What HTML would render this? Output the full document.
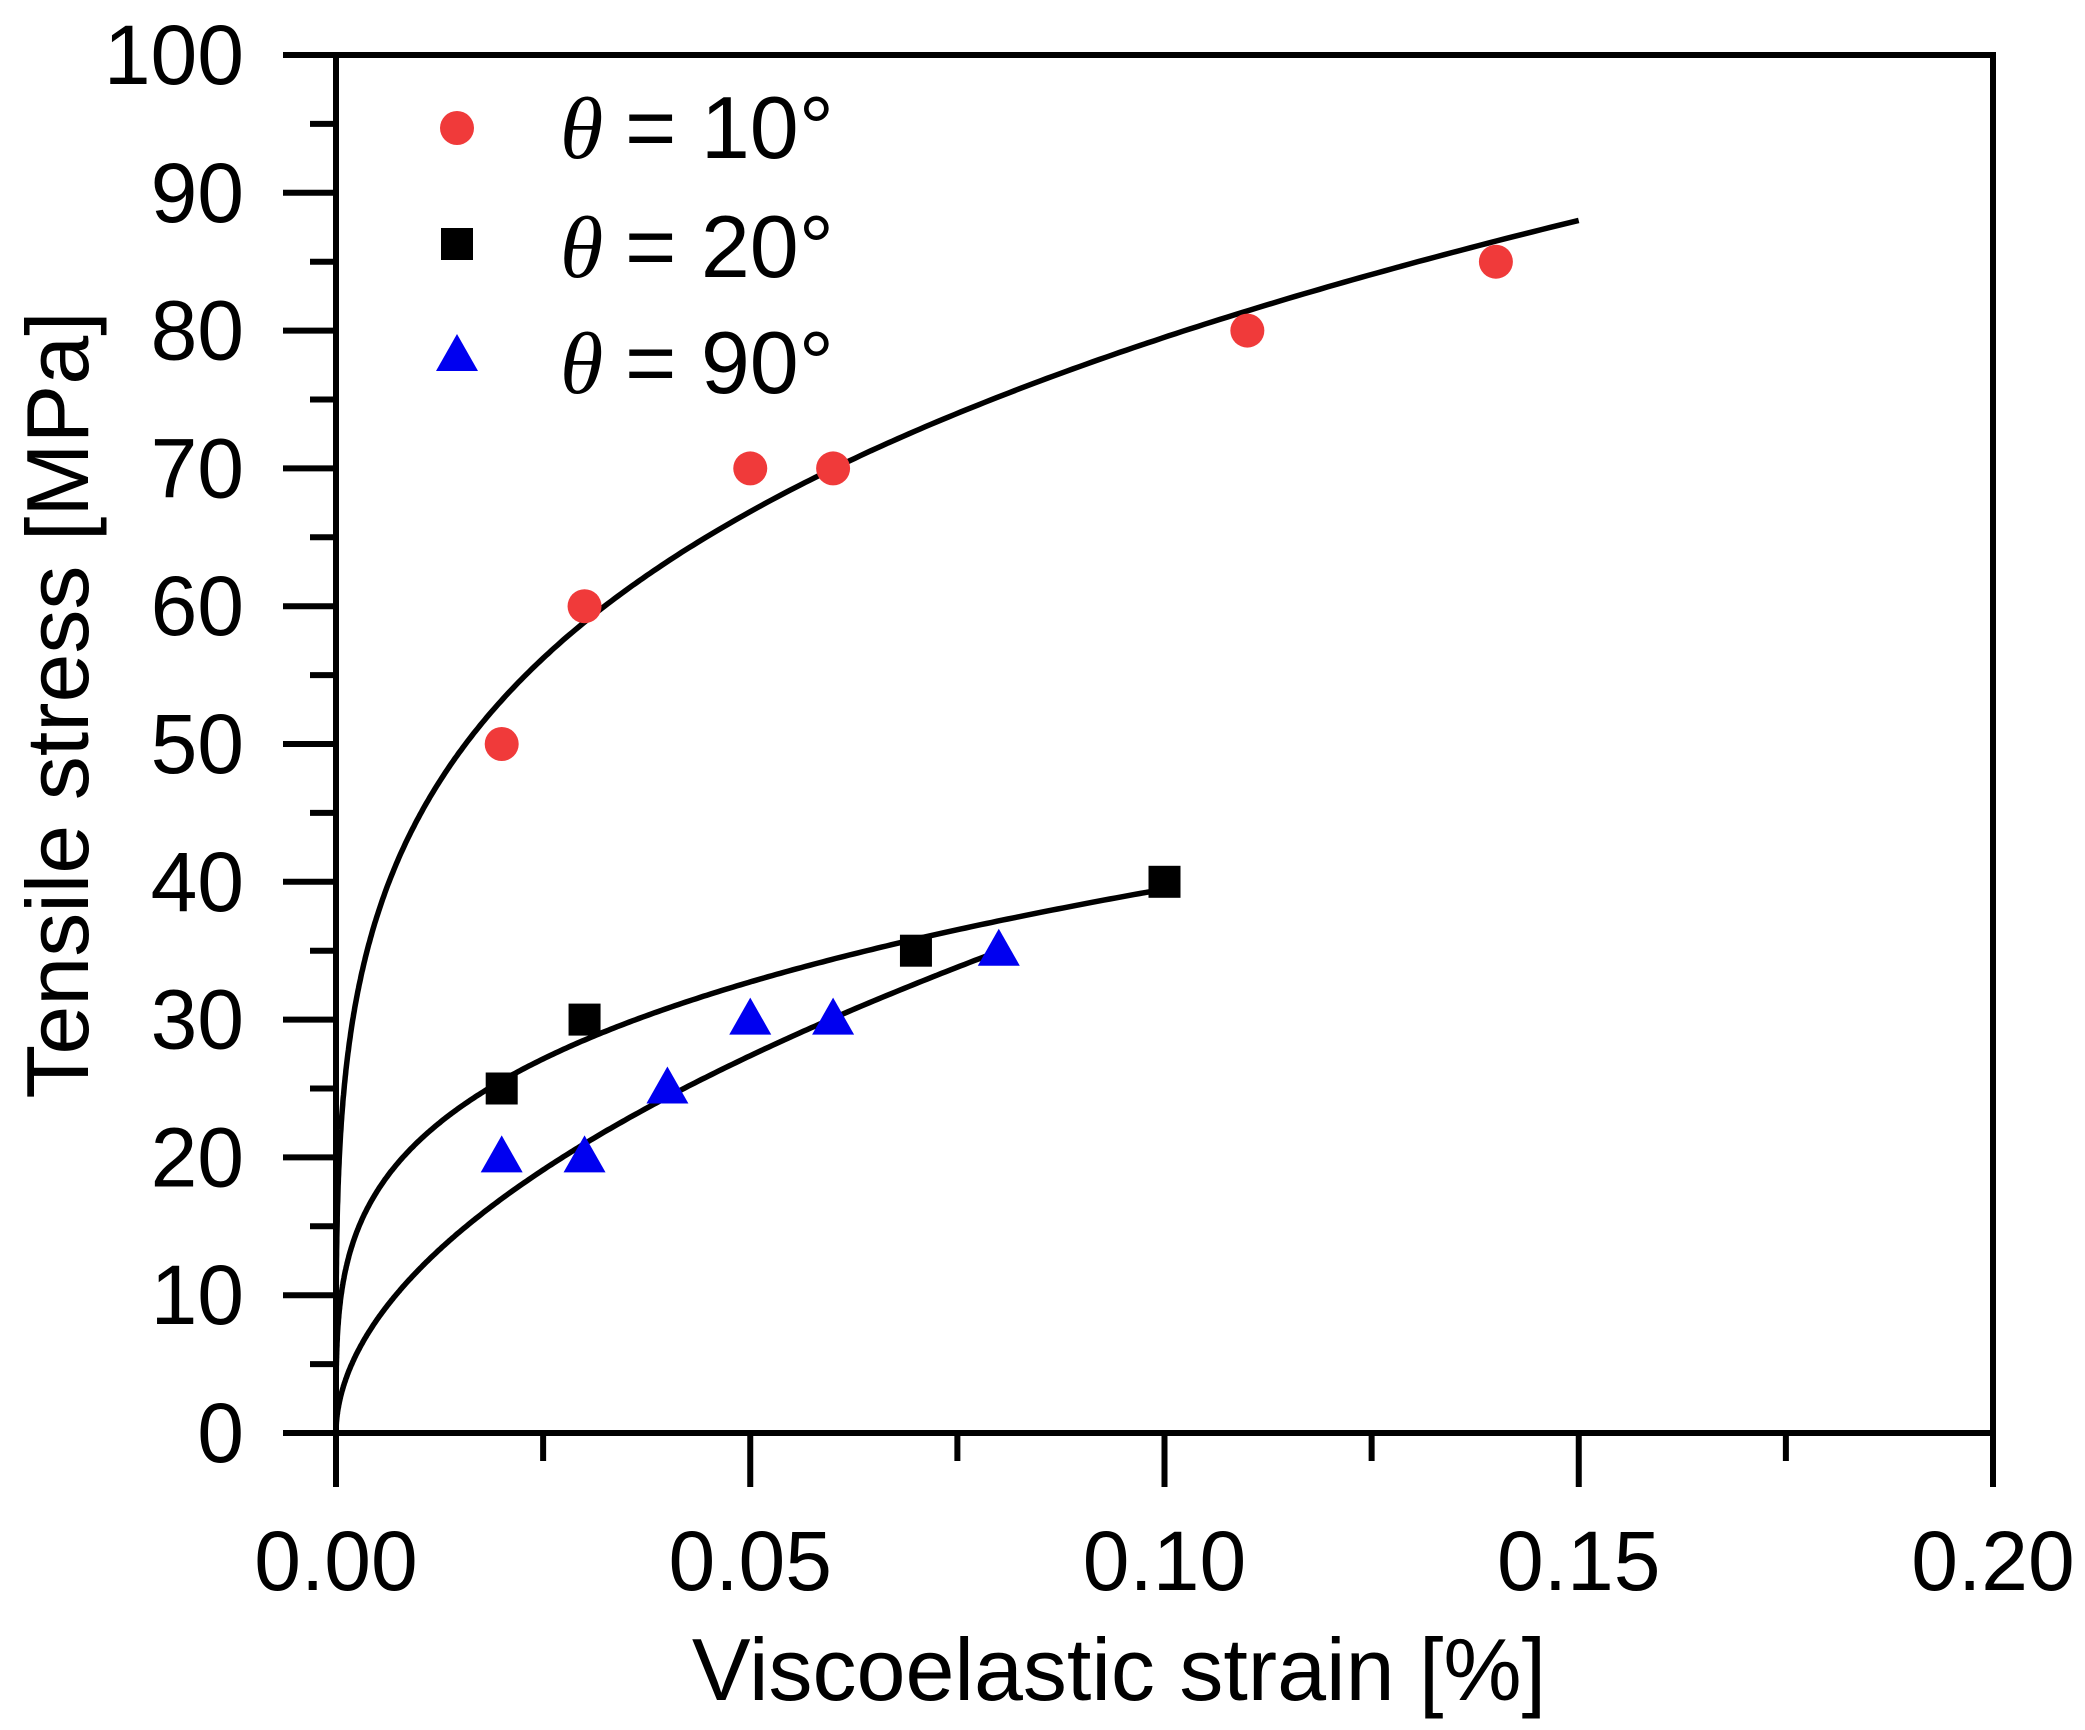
<!DOCTYPE html>
<html><head><meta charset="utf-8"><style>
html,body{margin:0;padding:0;background:#fff;}
svg{display:block;}
text{font-family:"Liberation Sans",Arial,sans-serif;fill:#000;}
</style></head><body>
<svg id="s" width="2085" height="1730" xmlns="http://www.w3.org/2000/svg">
<g id="g"></g>
</svg>
<script>
const X0=336,X1=1993,Y0=1433,Y1=55;
const sx=v=>X0+(X1-X0)*v/0.2, sy=v=>Y0+(Y1-Y0)*v/100;
let h='';
h+=`<rect x="${X0}" y="${Y1}" width="${X1-X0}" height="${Y0-Y1}" fill="none" stroke="#000" stroke-width="6"/>`;
for(let v=0;v<=100;v+=5){const y=sy(v);const maj=v%10==0;h+=`<line x1="${maj?283:310}" x2="${X0}" y1="${y}" y2="${y}" stroke="#000" stroke-width="6"/>`;
 if(maj) h+=`<text x="244" y="${y+29}" font-size="84" text-anchor="end">${v}</text>`;}
for(let i=0;i<=8;i++){const v=i*0.025,x=sx(v);const maj=i%2==0;h+=`<line x1="${x}" x2="${x}" y1="${Y0}" y2="${maj?1487:1461}" stroke="#000" stroke-width="6"/>`;
 if(maj) h+=`<text x="${x}" y="1590" font-size="84" text-anchor="middle">${v.toFixed(2)}</text>`;}
h+=`<text x="1119" y="1700" font-size="88" text-anchor="middle">Viscoelastic strain [%]</text>`;
h+=`<text transform="translate(88,705) rotate(-90)" font-size="88" text-anchor="middle">Tensile stress [MPa]</text>`;
function curve(a,b,xm){let p='';for(let i=0;i<=400;i++){const t=Math.pow(i/400,3)*xm;p+=(i?'L':'M')+sx(t).toFixed(1)+','+sy(a*Math.pow(t,b)).toFixed(1);}return `<path d="${p}" fill="none" stroke="#000" stroke-width="5.5"/>`;}
h+=curve(141.4,0.25,0.15);
h+=curve(73.5,0.27,0.1);
h+=curve(130,0.52,0.08);
const circ=(x,y)=>`<circle cx="${x}" cy="${y}" r="17" fill="#f03a3a"/>`;
const sq=(x,y)=>`<rect x="${x-16}" y="${y-16}" width="32" height="32" fill="#000"/>`;
const tri=(x,y)=>`<polygon points="${x},${y-22} ${x+21},${y+15} ${x-21},${y+15}" fill="#0000f0"/>`;
[[0.02,50],[0.03,60],[0.05,70],[0.06,70],[0.11,80],[0.14,85]].forEach(d=>h+=circ(sx(d[0]),sy(d[1])));
[[0.02,25],[0.03,30],[0.07,35],[0.1,40]].forEach(d=>h+=sq(sx(d[0]),sy(d[1])));
[[0.02,20],[0.03,20],[0.04,25],[0.05,30],[0.06,30],[0.08,35]].forEach(d=>h+=tri(sx(d[0]),sy(d[1])));
h+=circ(457,128)+sq(457,244)+tri(457,356);
[['10',158],['20',277],['90',393]].forEach(r=>{h+=`<text x="560" y="${r[1]}" font-size="88"><tspan font-family="Liberation Serif" font-style="italic">θ</tspan><tspan x="625">= ${r[0]}°</tspan></text>`;});
document.getElementById('g').innerHTML=h;
</script>
</body></html>
